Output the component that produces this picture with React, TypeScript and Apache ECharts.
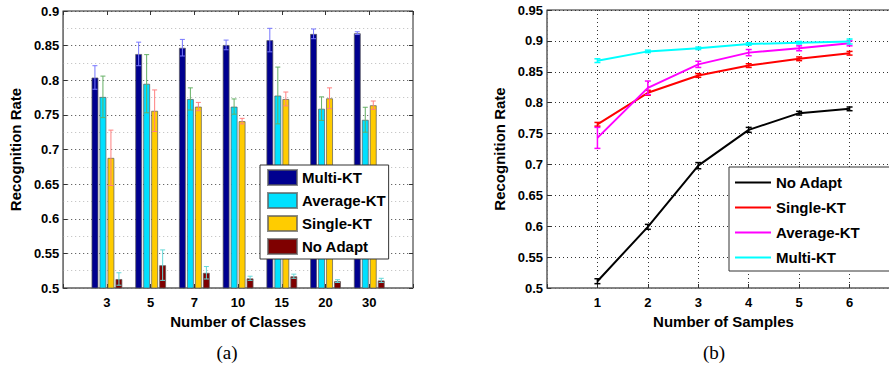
import React, { useEffect, useRef } from 'react';
import * as echarts from 'echarts';

// ---------- Data: chart (a) ----------
const classCategories = ['', '3', '5', '7', '10', '15', '20', '30', ''];
const barNames = ['Multi-KT', 'Average-KT', 'Single-KT', 'No Adapt'];
const multiKT = [0.804, 0.838, 0.847, 0.851, 0.858, 0.867, 0.868];
const multiKTErr = [0.017, 0.017, 0.012, 0.007, 0.017, 0.007, 0.002];
const averageKT = [0.776, 0.795, 0.773, 0.762, 0.778, 0.759, 0.743];
const averageKTErr = [0.03, 0.042, 0.016, 0.011, 0.041, 0.017, 0.018];
const singleKT = [0.688, 0.756, 0.762, 0.741, 0.773, 0.774, 0.764];
const singleKTErr = [0.04, 0.03, 0.006, 0.004, 0.01, 0.015, 0.006];
const noAdapt = [0.513, 0.533, 0.522, 0.514, 0.517, 0.51, 0.511];
const noAdaptErr = [0.009, 0.022, 0.009, 0.003, 0.003, 0.002, 0.003];

// ---------- Data: chart (b) ----------
const sampleCounts = [1, 2, 3, 4, 5, 6];
const lineNames = ['No Adapt', 'Single-KT', 'Average-KT', 'Multi-KT'];
const lineNoAdapt = [0.511, 0.599, 0.698, 0.756, 0.783, 0.79];
const lineNoAdaptErr = [0.004, 0.004, 0.005, 0.004, 0.003, 0.003];
const lineSingleKT = [0.765, 0.816, 0.844, 0.86, 0.871, 0.88];
const lineSingleKTErr = [0.003, 0.004, 0.003, 0.003, 0.003, 0.003];
const lineAverageKT = [0.743, 0.824, 0.862, 0.881, 0.888, 0.896];
const lineAverageKTErr = [0.017, 0.011, 0.005, 0.005, 0.004, 0.004];
const lineMultiKT = [0.868, 0.883, 0.888, 0.895, 0.897, 0.899];
const lineMultiKTErr = [0.003, 0.002, 0.002, 0.002, 0.002, 0.004];

const FONT = 'Liberation Sans, Arial, sans-serif';

function errorRenderer(color: string, offset: number, hw: number, lw: number) {
  return (params: any, api: any) => {
    const x = api.value(0);
    const v = api.value(1);
    const e = api.value(2);
    const top = api.coord([x, v + e]);
    const bot = api.coord([x, v - e]);
    const cx = top[0] + offset;
    const style = { stroke: color, lineWidth: lw };
    return {
      type: 'group',
      children: [
        { type: 'line', shape: { x1: cx, y1: top[1], x2: cx, y2: bot[1] }, style },
        { type: 'line', shape: { x1: cx - hw, y1: top[1], x2: cx + hw, y2: top[1] }, style },
        { type: 'line', shape: { x1: cx - hw, y1: bot[1], x2: cx + hw, y2: bot[1] }, style },
      ],
    };
  };
}

function optionA(): any {
  const values = [multiKT, averageKT, singleKT, noAdapt];
  const errs = [multiKTErr, averageKTErr, singleKTErr, noAdaptErr];
  const colors = ['#00008f', '#00e0ff', '#ffcc00', '#7f0000'];
  const errColors = ['#7777ff', '#66b066', '#ff8080', '#66d8d8'];
  const step = 8;
  const series: any[] = [];
  values.forEach((vals, k) => {
    series.push({
      name: barNames[k],
      type: 'bar',
      data: ['-', ...vals, '-'],
      barWidth: 7,
      barGap: '14%',
      clip: true,
      itemStyle: { color: colors[k], borderColor: 'rgba(90,90,90,0.7)', borderWidth: 1 },
      z: 2,
    });
  });
  values.forEach((vals, k) => {
    series.push({
      type: 'custom',
      data: vals.map((v, i) => [i + 1, v, errs[k][i]]),
      renderItem: errorRenderer(errColors[k], (k - 1.5) * step, 2.5, 1),
      z: 5,
      silent: true,
    });
  });
  const labelStyle = { fontFamily: FONT, fontWeight: 'bold', fontSize: 13, color: '#000' };
  return {
    animation: false,
    backgroundColor: '#fff',
    grid: { left: 60, top: 11, width: 353, height: 277, show: true, borderColor: '#222', borderWidth: 1, backgroundColor: 'transparent' },
    legend: {
      data: barNames,
      orient: 'vertical',
      left: 260,
      top: 165,
      padding: [4, 3, 4, 7],
      itemWidth: 29,
      itemHeight: 15,
      itemGap: 6,
      icon: 'rect',
      backgroundColor: '#fff',
      borderColor: '#333',
      borderWidth: 1,
      borderRadius: 0,
      textStyle: { fontFamily: FONT, fontWeight: 'bold', fontSize: 15, color: '#000', lineHeight: 15 },
      selectedMode: false,
      z: 10,
    },
    xAxis: [
      {
        type: 'category',
        data: classCategories,
        boundaryGap: false,
        position: 'bottom',
        axisLine: { lineStyle: { color: '#808080', width: 1.5 } },
        axisTick: { inside: true, length: 4, lineStyle: { color: '#333' } },
        axisLabel: { ...labelStyle, margin: 8 },
        name: 'Number of Classes',
        nameLocation: 'middle',
        nameGap: 19,
        nameTextStyle: { fontFamily: FONT, fontWeight: 'bold', fontSize: 15, color: '#000' },
        splitLine: { show: false },
      },
      {
        type: 'category',
        data: classCategories,
        boundaryGap: false,
        position: 'top',
        axisLine: { show: false },
        axisTick: { inside: true, length: 4, lineStyle: { color: '#333' } },
        axisLabel: { show: false },
        splitLine: { show: false },
      },
    ],
    yAxis: [
      {
        type: 'value',
        min: 0.5,
        max: 0.9,
        interval: 0.05,
        axisLine: { show: true, lineStyle: { color: '#808080', width: 1.5 } },
        axisTick: { show: true, inside: true, length: 4, lineStyle: { color: '#333' } },
        axisLabel: { ...labelStyle, margin: 4 },
        splitLine: { show: true, lineStyle: { color: '#444', type: [1, 3], width: 1 } },
        minorTick: { show: false, splitNumber: 2 },
        minorSplitLine: { show: true, lineStyle: { color: '#bbb', type: [1, 3], width: 1 } },
        name: 'Recognition Rate',
        nameLocation: 'middle',
        nameGap: 31,
        nameTextStyle: { fontFamily: FONT, fontWeight: 'bold', fontSize: 15, color: '#000' },
      },
      {
        type: 'value',
        min: 0.5,
        max: 0.9,
        interval: 0.05,
        position: 'right',
        axisLine: { show: false },
        axisTick: { show: true, inside: true, length: 4, lineStyle: { color: '#333' } },
        axisLabel: { show: false },
        splitLine: { show: false },
      },
    ],
    series,
    graphic: [
      {
        type: 'text',
        x: 227,
        y: 352,
        style: { text: '(a)', fontFamily: 'Liberation Serif, Times New Roman, serif', fontSize: 19, fill: '#000', align: 'center', verticalAlign: 'middle' },
      },
    ],
  };
}

function optionB(): any {
  const values = [lineNoAdapt, lineSingleKT, lineAverageKT, lineMultiKT];
  const errs = [lineNoAdaptErr, lineSingleKTErr, lineAverageKTErr, lineMultiKTErr];
  const colors = ['#000000', '#ff0000', '#ff00ff', '#00ffff'];
  const series: any[] = [];
  values.forEach((vals, k) => {
    series.push({
      name: lineNames[k],
      type: 'line',
      data: vals.map((v, i) => [sampleCounts[i], v]),
      symbol: 'none',
      lineStyle: { color: colors[k], width: 2 },
      itemStyle: { color: colors[k] },
      z: 3 + k,
    });
    series.push({
      type: 'custom',
      data: vals.map((v, i) => [sampleCounts[i], v, errs[k][i]]),
      renderItem: errorRenderer(colors[k], 0, 3, 1.5),
      z: 3 + k,
      silent: true,
    });
  });
  const labelStyle = { fontFamily: FONT, fontWeight: 'bold', fontSize: 13, color: '#000' };
  const gridLine = { show: true, lineStyle: { color: '#333', type: [1, 3], width: 1 } };
  return {
    animation: false,
    backgroundColor: '#fff',
    grid: { left: 102, top: 10, width: 353, height: 278, show: true, borderColor: '#222', borderWidth: 1, backgroundColor: 'transparent' },
    legend: {
      data: lineNames,
      orient: 'vertical',
      left: 284,
      top: 167,
      padding: [8, 80, 6, 6],
      itemWidth: 36,
      itemHeight: 2,
      itemGap: 10,
      icon: 'rect',
      backgroundColor: '#fff',
      borderColor: '#333',
      borderWidth: 1,
      borderRadius: 0,
      textStyle: { fontFamily: FONT, fontWeight: 'bold', fontSize: 15, color: '#000', lineHeight: 15 },
      selectedMode: false,
      z: 10,
    },
    xAxis: {
      type: 'value',
      min: 0,
      max: 7,
      interval: 1,
      axisLine: { show: true, lineStyle: { color: '#808080', width: 1.5 } },
      axisTick: { show: true, inside: true, length: 4, lineStyle: { color: '#333' } },
      axisLabel: {
        ...labelStyle,
        margin: 8,
        formatter: (v: number) => (v >= 1 && v <= 6 ? String(v) : ''),
      },
      splitLine: gridLine,
      name: 'Number of Samples',
      nameLocation: 'middle',
      nameGap: 19,
      nameTextStyle: { fontFamily: FONT, fontWeight: 'bold', fontSize: 15, color: '#000' },
    },
    yAxis: {
      type: 'value',
      min: 0.5,
      max: 0.95,
      interval: 0.05,
      axisLine: { show: true, lineStyle: { color: '#808080', width: 1.5 } },
      axisTick: { show: true, inside: true, length: 4, lineStyle: { color: '#333' } },
      axisLabel: { ...labelStyle, margin: 4 },
      splitLine: gridLine,
      name: 'Recognition Rate',
      nameLocation: 'middle',
      nameGap: 39,
      nameTextStyle: { fontFamily: FONT, fontWeight: 'bold', fontSize: 15, color: '#000' },
    },
    series,
    graphic: [
      {
        type: 'text',
        x: 269,
        y: 352,
        style: { text: '(b)', fontFamily: 'Liberation Serif, Times New Roman, serif', fontSize: 19, fill: '#000', align: 'center', verticalAlign: 'middle' },
      },
    ],
  };
}

export default function App() {
  const refA = useRef<HTMLDivElement>(null);
  const refB = useRef<HTMLDivElement>(null);
  useEffect(() => {
    const a = echarts.init(refA.current!, undefined, { renderer: 'svg' });
    const b = echarts.init(refB.current!, undefined, { renderer: 'svg' });
    a.setOption(optionA());
    b.setOption(optionB());
    return () => {
      a.dispose();
      b.dispose();
    };
  }, []);
  return (
    <div style={{ position: 'fixed', left: 0, top: 0, width: 889, height: 365, background: '#fff', overflow: 'hidden' }}>
      <div ref={refA} style={{ position: 'absolute', left: 0, top: 0, width: 445, height: 365 }} />
      <div ref={refB} style={{ position: 'absolute', left: 445, top: 0, width: 480, height: 365 }} />
    </div>
  );
}
